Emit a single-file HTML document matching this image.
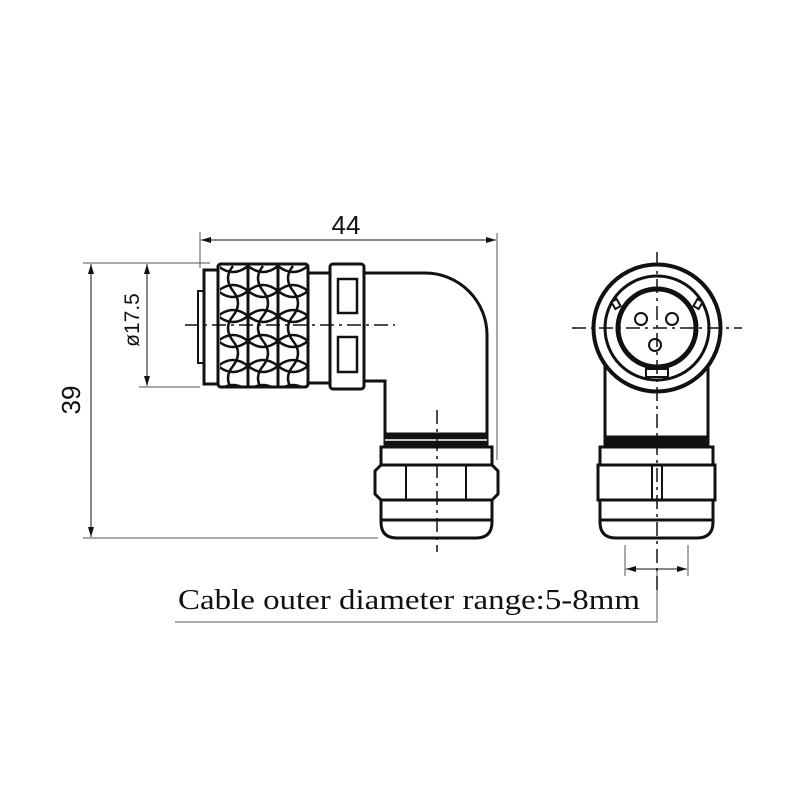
<!DOCTYPE html>
<html><head><meta charset="utf-8"><style>html,body{margin:0;padding:0;background:#fff}svg{display:block}</style></head><body>
<svg width="800" height="800" viewBox="0 0 800 800" xmlns="http://www.w3.org/2000/svg">
<defs>
<marker id="a" viewBox="0 0 10 6" refX="10" refY="3" markerWidth="10" markerHeight="6" orient="auto-start-reverse" markerUnits="userSpaceOnUse"><path d="M0,0 L10,3 L0,6 z" fill="#111"/></marker>
<clipPath id="kc"><rect x="220" y="265" width="88" height="121"/></clipPath>
</defs>
<g stroke="#555" stroke-width="1" fill="none">
<line x1="200" y1="232" x2="200" y2="268"/>
<line x1="497" y1="233" x2="497" y2="460"/>
<line x1="201" y1="240" x2="496" y2="240" stroke="#111" marker-start="url(#a)" marker-end="url(#a)"/>
<line x1="83" y1="263" x2="210" y2="263"/>
<line x1="83" y1="538" x2="378" y2="538"/>
<line x1="91" y1="264" x2="91" y2="537" stroke="#111" marker-start="url(#a)" marker-end="url(#a)"/>
<line x1="139" y1="387" x2="200" y2="387"/>
<line x1="147" y1="264" x2="147" y2="386" stroke="#111" marker-start="url(#a)" marker-end="url(#a)"/>
<line x1="625" y1="545" x2="625" y2="576"/>
<line x1="688" y1="545" x2="688" y2="576"/>
<line x1="626" y1="569" x2="687" y2="569" stroke="#111" marker-start="url(#a)" marker-end="url(#a)"/>
<polyline points="175,622 657,622 657,570"/>
</g>
<text x="0" y="0" transform="translate(80,400) rotate(-90)" text-anchor="middle" font-family="Liberation Sans, sans-serif" font-size="26" fill="#111">39</text>
<text x="0" y="0" transform="translate(139,320) rotate(-90)" text-anchor="middle" font-family="Liberation Sans, sans-serif" font-size="21" fill="#111">ø17.5</text>
<text x="346" y="234" text-anchor="middle" font-family="Liberation Sans, sans-serif" font-size="26" fill="#111">44</text>
<text x="178" y="609" textLength="462" lengthAdjust="spacingAndGlyphs" font-family="Liberation Serif, serif" font-size="28" fill="#111">Cable outer  diameter range:5-8mm</text>

<g stroke="#111" stroke-width="3" fill="#fff">
<rect x="198" y="291" width="6" height="72" stroke-width="2"/>
<rect x="204" y="270" width="15" height="114"/>
<rect x="308" y="273" width="22" height="110"/>
<path d="M364,273 H425 A62,62 0 0 1 487,335 V435 H385 V381 H364 Z"/>
<rect x="218" y="264" width="90" height="123" rx="3"/>
<rect x="330" y="264" width="34" height="125" rx="3"/>
<rect x="338" y="279" width="19" height="34" stroke-width="2.5"/>
<rect x="338" y="337" width="19" height="35" stroke-width="2.5"/>
<rect x="385" y="434" width="102" height="13" fill="#111"/>
<line x1="385" y1="440" x2="487" y2="440" stroke="#fff" stroke-width="1.5"/>
<rect x="381" y="447" width="111" height="18"/>
<path d="M381,500 H492 V522 Q492,538 476,538 H397 Q381,538 381,522 Z"/>
<line x1="381" y1="520" x2="492" y2="520"/>
<path d="M381,465 H492 L498,471 V494 L492,500 H381 L375,494 V471 Z"/>
<line x1="406" y1="466" x2="406" y2="499" stroke-width="2"/>
<line x1="466" y1="466" x2="466" y2="499" stroke-width="2"/>
</g>
<g clip-path="url(#kc)" stroke="#111" stroke-width="2.5" fill="none">
<path d="M218,266 q15,12 30,0 q15,12 30,0 q15,12 30,0 M218,291 q15,-12 30,0 q15,-12 30,0 q15,-12 30,0
M218,291 q15,12 30,0 q15,12 30,0 q15,12 30,0 M218,316 q15,-12 30,0 q15,-12 30,0 q15,-12 30,0
M218,316 q15,12 30,0 q15,12 30,0 q15,12 30,0 M218,341 q15,-12 30,0 q15,-12 30,0 q15,-12 30,0
M218,341 q15,12 30,0 q15,12 30,0 q15,12 30,0 M218,366 q15,-12 30,0 q15,-12 30,0 q15,-12 30,0
M218,366 q15,12 30,0 q15,12 30,0 q15,12 30,0 M218,391 q15,-12 30,0 q15,-12 30,0 q15,-12 30,0"/>
<path d="M248,264 V388 M278,264 V388" stroke-width="3"/>
<path d="M233,266 q-10,12 0,25 q10,12 0,25 q-10,12 0,25 q10,12 0,25 q-10,12 0,25 M263,266 q-10,12 0,25 q10,12 0,25 q-10,12 0,25 q10,12 0,25 q-10,12 0,25 M293,266 q-10,12 0,25 q10,12 0,25 q-10,12 0,25 q10,12 0,25 q-10,12 0,25"/>
</g>
<rect x="218" y="264" width="90" height="123" rx="3" fill="none" stroke="#111" stroke-width="3"/>
<g stroke="#111" stroke-width="1.5" stroke-dasharray="14,5,3,5" fill="none">
<line x1="185" y1="325" x2="395" y2="325"/>
<line x1="437" y1="410" x2="437" y2="552"/>
</g>

<g stroke="#111" stroke-width="3" fill="#fff">
<path d="M605,360 V437 H708 V360"/>
<rect x="605" y="437" width="103" height="10" fill="#111"/>
<rect x="600" y="447" width="113" height="18"/>
<path d="M600,500 H713 V522 Q713,538 697,538 H616 Q600,538 600,522 Z"/>
<line x1="600" y1="520" x2="713" y2="520"/>
<rect x="598" y="465" width="117" height="35"/>
<line x1="652" y1="466" x2="652" y2="499" stroke-width="2"/>
<line x1="662" y1="466" x2="662" y2="499" stroke-width="2"/>
<circle cx="657" cy="328" r="61" stroke-width="9"/>
<circle cx="657" cy="328" r="61" stroke="#fff" stroke-width="1"/>
<circle cx="657" cy="328" r="52" stroke-width="3"/>
<circle cx="657" cy="328" r="39" stroke-width="5"/>
<circle cx="641" cy="319" r="6" stroke-width="2"/>
<circle cx="672" cy="319" r="6" stroke-width="2"/>
<circle cx="655" cy="345" r="6" stroke-width="2"/>
<rect x="646" y="369" width="22" height="8" stroke-width="2"/>
<rect x="613" y="300" width="6" height="8" stroke-width="2" transform="rotate(-30 616 304)"/>
<rect x="695" y="300" width="6" height="8" stroke-width="2" transform="rotate(30 698 304)"/>
</g>
<g stroke="#111" stroke-width="1.5" stroke-dasharray="14,5,3,5" fill="none">
<line x1="572" y1="328" x2="742" y2="328"/>
<line x1="657" y1="252" x2="657" y2="590"/>
</g>
</svg>
</body></html>
